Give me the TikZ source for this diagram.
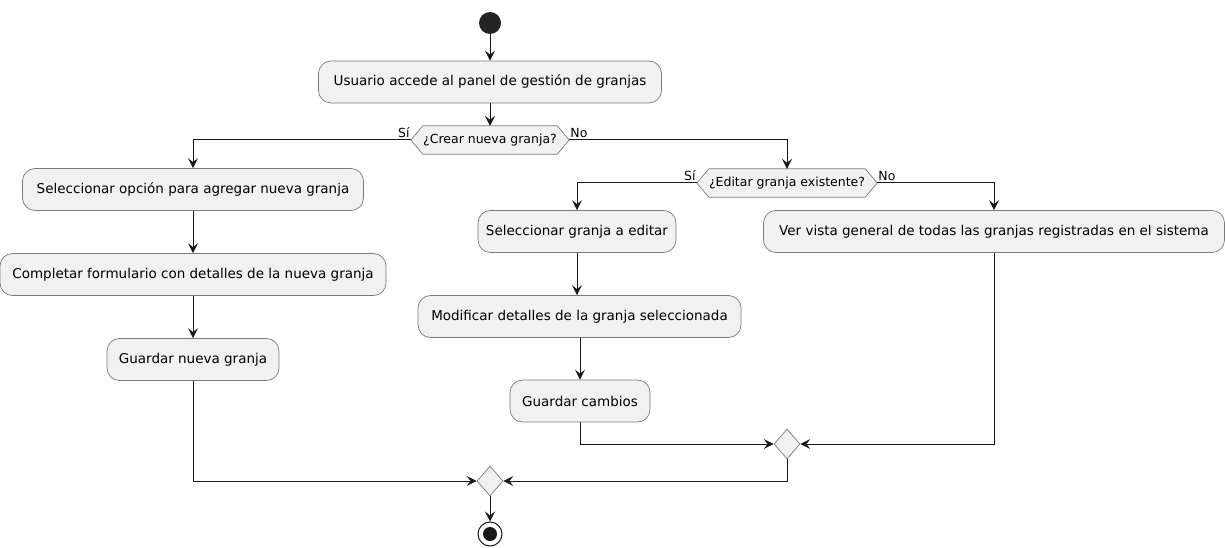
\documentclass[tikz,border=0pt]{standalone}
\usepackage{fontspec}
\setmainfont{DejaVu Sans}
\usetikzlibrary{arrows.meta,shapes.geometric,backgrounds}
\definecolor{actfill}{HTML}{F1F1F1}
\definecolor{actline}{HTML}{181818}
\definecolor{actborder}{HTML}{7A7A7A}
\tikzset{
  activity/.style={draw=actborder, line width=0.7pt, fill=actfill, rounded corners=12.5pt,
    minimum height=42pt, inner xsep=0pt, font=\fontsize{13.5}{16}\selectfont, text=black},
  decision/.style={minimum height=28pt, inner sep=0pt, font=\fontsize{12.5}{14}\selectfont},
  hexfill/.style={draw=actborder, line width=0.7pt, fill=actfill},
  merge/.style={diamond, draw=actborder, line width=0.7pt, fill=actfill, minimum width=26pt,
    minimum height=30pt, inner sep=0pt},
  flow/.style={draw=actline, line width=1pt, -{Stealth[length=10pt,width=10pt,inset=4pt]}},
  branchlbl/.style={font=\fontsize{12.5}{14}\selectfont, inner sep=1pt},
}
\newcommand{\hexagon}[2]{% node name, point depth
  \begin{scope}[on background layer]
    \path[hexfill] (#1.west) -- ([xshift=#2]#1.north west) -- ([xshift=-#2]#1.north east)
      -- (#1.east) -- ([xshift=-#2]#1.south east) -- ([xshift=#2]#1.south west) -- cycle;
  \end{scope}}
\begin{document}
\begin{tikzpicture}[x=1pt,y=-1pt]
\useasboundingbox (0,0) rectangle (1225,548);

% start
\node[circle, fill=actline!95, minimum size=22pt, inner sep=0pt] (start) at (490,23) {};

% main activity
\node[activity, minimum width=343pt] (panel) at (490,82) {Usuario accede al panel de gestión de granjas};

% first decision
\node[decision, minimum width=158pt] (crear) at (490,140) {¿Crear nueva granja?};
\hexagon{crear}{12pt}
\node[branchlbl, anchor=south east] (crearsi) at ([yshift=1pt]crear.west) {Sí};
\node[branchlbl, anchor=south west] (crearno) at ([yshift=1pt]crear.east) {No};

% left branch: new farm
\node[activity, minimum width=341pt] (opcion) at (193,189.5) {Seleccionar opción para agregar nueva granja};
\node[activity, minimum width=386pt] (form) at (193,274.5) {Completar formulario con detalles de la nueva granja};
\node[activity, minimum width=172pt] (guardarn) at (193,359.5) {Guardar nueva granja};

% second decision
\node[decision, minimum width=180pt] (editar) at (787,183) {¿Editar granja existente?};
\hexagon{editar}{12pt}
\node[branchlbl, anchor=south east] (editarsi) at ([yshift=1pt]editar.west) {Sí};
\node[branchlbl, anchor=south west] (editarno) at ([yshift=1pt]editar.east) {No};

% edit branch
\node[activity, minimum width=198pt] (selec) at (577,231.5) {Seleccionar granja a editar};
\node[activity, minimum width=323pt] (modif) at (579.5,316.5) {Modificar detalles de la granja seleccionada};
\node[activity, minimum width=140pt] (guardarc) at (580,401) {Guardar cambios};

% overview branch
\node[activity, minimum width=461pt] (vista) at (994,231.5) {Ver vista general de todas las granjas registradas en el sistema};

% merges
\node[merge] (merge1) at (787,444) {};
\node[merge] (merge0) at (490,481) {};

% end
\node[circle, draw=actline, line width=1pt, fill=white, minimum size=24pt, inner sep=0pt] (stop) at (490,534) {};
\node[circle, fill=actline, minimum size=14pt, inner sep=0pt] (stopdot) at (stop.center) {};

% connectors
\draw[flow] (start) -- (panel);
\draw[flow] (panel) -- (crear.north);
\draw[flow] (crear.west) -| (opcion.north);
\draw[flow] (opcion) -- (form);
\draw[flow] (form) -- (guardarn);
\draw[flow] (crear.east) -| (editar.north);
\draw[flow] (editar.west) -| (selec.north);
\draw[flow] (editar.east) -| (vista.north);
\draw[flow] (selec.south) -- (selec.south |- modif.north);
\draw[flow] (modif.south -| guardarc.north) -- (guardarc.north);
\draw[flow] (guardarc.south) |- (merge1.west);
\draw[flow] (vista.south) |- (merge1.east);
\draw[flow] (merge1.south) |- (merge0.east);
\draw[flow] (guardarn.south) |- (merge0.west);
\draw[flow] (merge0) -- (stop);
\end{tikzpicture}
\end{document}
